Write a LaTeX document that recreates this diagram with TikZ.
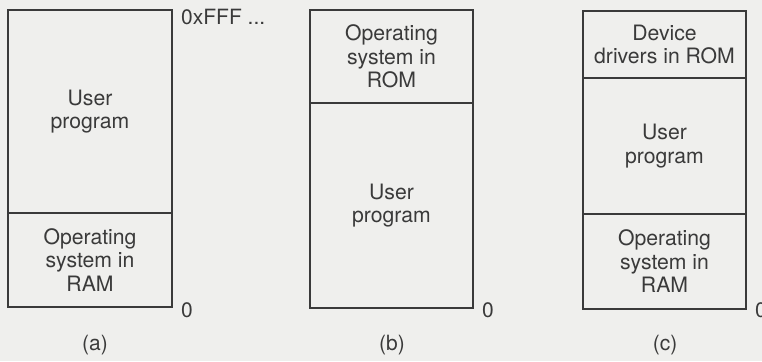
\documentclass[tikz,border=0pt]{standalone}
\usepackage{fontspec}
\setmainfont{TeX Gyre Heros}
\definecolor{bg}{HTML}{EFEFED}
\definecolor{ink}{HTML}{3A3A3A}
\begin{document}
\begin{tikzpicture}[x=1pt,y=-1pt,
  region/.style={draw=ink,line width=1.3pt,text=ink,align=center,inner sep=0pt,
    font=\fontsize{21.2}{23.5}\selectfont},
  lbl/.style={text=ink,inner sep=0pt,font=\fontsize{21}{23.5}\selectfont}]
\fill[bg] (0,0) rectangle (762,361);
\useasboundingbox (0,0) rectangle (762,361);
% (a)
\node[region,minimum width=164pt,minimum height=203pt] (aup) at (90,111.5) {User\\program};
\node[region,minimum width=164pt,minimum height=94pt] (aos) at (90,260) {Operating\\system in\\RAM};
\node[lbl,anchor=west] (atop) at (181,17) {0xFFF ...};
\node[lbl,anchor=west] (azero) at (181,310) {0};
\node[lbl] (acap) at (95,345) {(a)};
% (b)
\node[region,minimum width=163pt,minimum height=93pt] (bos) at (391.5,56.5) {Operating\\system in\\ROM};
\node[region,minimum width=163pt,minimum height=205pt] (bup) at (391.5,205.5) {User\\program};
\node[lbl,anchor=west] (bzero) at (482,310) {0};
\node[lbl] (bcap) at (392,345) {(b)};
% (c)
\node[region,minimum width=163pt,minimum height=67pt] (cdd) at (664.5,44.5) {Device\\drivers in ROM};
\node[region,minimum width=163pt,minimum height=136pt] (cup) at (664.5,146) {User\\program};
\node[region,minimum width=163pt,minimum height=95pt] (cos) at (664.5,261.5) {Operating\\system in\\RAM};
\node[lbl,anchor=west] (czero) at (755,310) {0};
\node[lbl] (ccap) at (665,345) {(c)};
\end{tikzpicture}
\end{document}
